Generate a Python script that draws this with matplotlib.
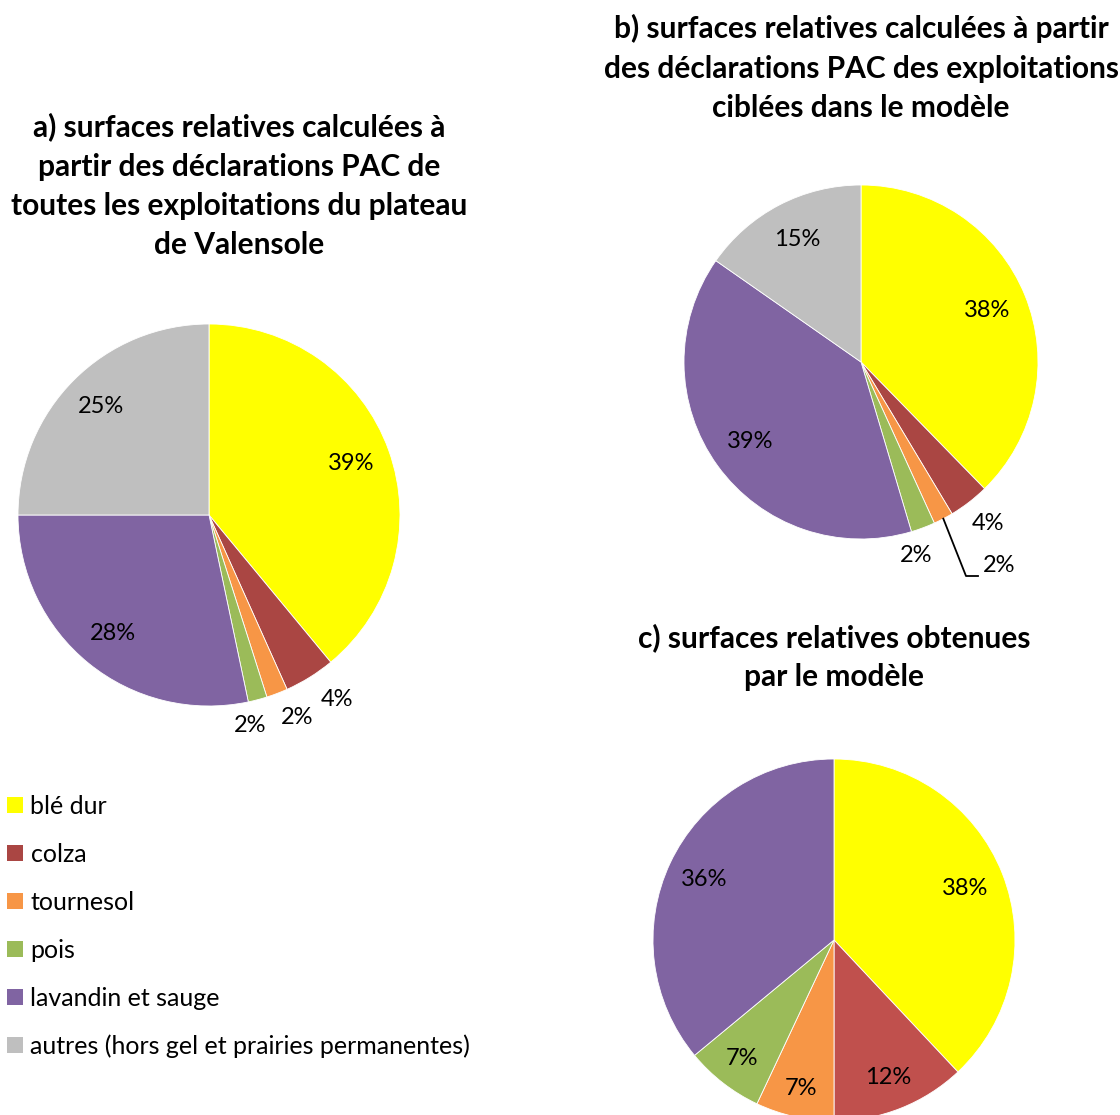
import numpy as np
import matplotlib.pyplot as plt
from matplotlib.patches import Patch

plt.rcParams['font.family'] = ['Lato', 'DejaVu Sans']

# data
categories = ["blé dur", "colza", "tournesol", "pois", "lavandin et sauge",
              "autres (hors gel et prairies permanentes)"]
colors = ["#FFFF00", "#AA4643", "#F79646", "#9BBB59", "#8064A2", "#BFBFBF"]
colors_c = ["#FFFF00", "#C0504D", "#F79646", "#9BBB59", "#8064A2"]

pac_all = [39.0, 4.3, 1.8, 1.6, 28.3, 25.0]          # a)
pac_target = [37.7, 3.7, 1.8, 2.2, 39.3, 15.3]       # b)
model = [38, 12, 7, 7, 36]                           # c)

title_a = "a) surfaces relatives calculées à\npartir des déclarations PAC de\ntoutes les exploitations du plateau\nde Valensole"
title_b = "b) surfaces relatives calculées à partir\ndes déclarations PAC des exploitations\nciblées dans le modèle"
title_c = "c) surfaces relatives obtenues\npar le modèle"

W, H = 1120, 1115
fig = plt.figure(figsize=(W / 100, H / 100), dpi=100)
ax = fig.add_axes([0, 0, 1, 1])


def Y(y):
    # pixel row -> data y
    return H - y


def draw_pie(vals, cols, cx, cy, r, spots):
    # spots: radial distance for labels inside, or a pixel (x, y) for labels outside
    wedges, _ = ax.pie(vals, colors=cols, startangle=90, counterclock=False,
                       center=(cx, Y(cy)), radius=r,
                       wedgeprops=dict(linewidth=0.6, edgecolor="white"))
    for w, v, s in zip(wedges, vals, spots):
        if isinstance(s, tuple):
            tx, ty = s[0], Y(s[1])
        else:
            a = np.deg2rad((w.theta1 + w.theta2) / 2)
            tx, ty = cx + s * r * np.cos(a), Y(cy) + s * r * np.sin(a)
        ax.text(tx, ty, f"{round(v)}%", ha="center", va="center", fontsize=17, color="black")
    return wedges


wa = draw_pie(pac_all, colors, 209, 515, 191,
              [0.79, (337, 700), (297, 717), (250, 725), 0.8, 0.8])
wb = draw_pie(pac_target, colors, 861, 362, 177,
              [0.77, (988, 523), (999, 566), (916, 555), 0.77, 0.78])
wc = draw_pie(model, colors_c, 834, 940, 181, [0.78, 0.82, 0.84, 0.83, 0.79])

# leader line for the small tournesol slice in b)
w = wb[2]
a = np.deg2rad((w.theta1 + w.theta2) / 2)
x0, y0 = 861 + 177 * np.cos(a), Y(362) + 177 * np.sin(a)
ax.plot([x0, 966, 978], [y0, Y(576), Y(576)], color="black", lw=1.3)

# titles
tkw = dict(ha="center", va="center", fontsize=21.5, fontweight="bold", linespacing=1.49)
ax.text(239, Y(186), title_a, **tkw)
ax.text(861, Y(68), title_b, **tkw)
ax.text(834, Y(657), title_c, **tkw)

handles = [Patch(facecolor=c, edgecolor="none") for c in colors]
ax.legend(handles, categories, loc="upper left", bbox_to_anchor=(0.0, Y(787) / H),
          frameon=False, fontsize=18, handlelength=0.62, handleheight=0.62,
          handletextpad=0.3, labelspacing=1.0, borderaxespad=0, borderpad=0.3)

ax.set_xlim(0, W)
ax.set_ylim(0, H)
ax.set_aspect("equal")
ax.axis("off")

fig.savefig("out.png", dpi=100)
